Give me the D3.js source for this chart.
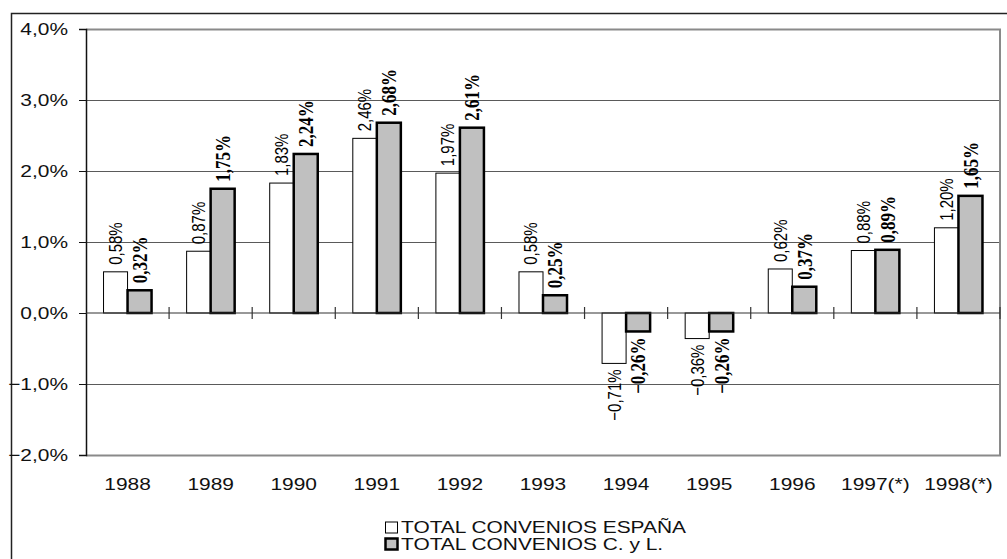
<!DOCTYPE html>
<html>
<head>
<meta charset="utf-8">
<script src="https://cdn.jsdelivr.net/npm/d3@7"></script>
<style>
html,body{margin:0;padding:0;background:#fff;}
svg{display:block;}
</style>
</head>
<body>
<svg id="chart" width="1007" height="559"></svg>
<script>
const categories = ["1988","1989","1990","1991","1992","1993","1994","1995","1996","1997(*)","1998(*)"];
const seriesNames = ["TOTAL CONVENIOS ESPAÑA","TOTAL CONVENIOS C. y L."];
const espana = [0.58,0.87,1.83,2.46,1.97,0.58,-0.71,-0.36,0.62,0.88,1.20];
const cyl = [0.32,1.75,2.24,2.68,2.61,0.25,-0.26,-0.26,0.37,0.89,1.65];
const yTicks = [-2,-1,0,1,2,3,4];

(function(){
const SX = 1.23; // horizontal text stretch seen in the reference
const svg = d3.select("#chart");
const pLeft = 86, pRight = 1000, pTop = 29, pBottom = 455;

// outer frame
svg.append("path").attr("d", `M11.5,570 L11.5,13.5 L1015,13.5`)
  .attr("fill","none").attr("stroke","#222").attr("stroke-width",1.5);

const x = d3.scaleBand().domain(categories).range([pLeft, pRight]).paddingInner(0).paddingOuter(0);
const xs = d3.scaleBand().domain([0,1]).range([0, x.bandwidth()]).paddingInner(0).paddingOuter(0.73);
const y = d3.scaleLinear().domain([-2,4]).range([pBottom, pTop]);

const fmt = v => d3.format(".2f")(v).replace(".", ",") + "%";
const fmtAxis = v => d3.format(".1f")(v).replace(".", ",") + "%";

// gridlines
svg.append("g").selectAll("line").data(yTicks.filter(t => t !== 0 && t !== 4 && t !== -2))
  .join("line")
  .attr("x1", pLeft).attr("x2", pRight)
  .attr("y1", d => Math.round(y(d)) + 0.5).attr("y2", d => Math.round(y(d)) + 0.5)
  .attr("stroke", "#5a5a5a").attr("stroke-width", 1);

// plot border (top/right/bottom) gray
svg.append("path")
  .attr("d", `M${pLeft},${Math.round(y(4))+0.5} L${pRight},${Math.round(y(4))+0.5} L${pRight},${Math.round(y(-2))+0.5} L${pLeft},${Math.round(y(-2))+0.5}`)
  .attr("fill","none").attr("stroke","#8a8a8a").attr("stroke-width",2);

// y axis
const yAxis = d3.axisLeft(y).tickValues(yTicks).tickSize(7).tickFormat("");
const gy = svg.append("g").attr("transform", `translate(${pLeft},0)`).call(yAxis);
gy.select(".domain").attr("stroke","#111").attr("stroke-width",1.5);
gy.selectAll(".tick line").attr("stroke","#111");
svg.append("g").selectAll("text").data(yTicks).join("text")
  .attr("transform", d => `translate(68,${y(d)}) scale(${SX},1)`)
  .attr("text-anchor","end").attr("dy","0.36em")
  .attr("font-family","Arial, 'Liberation Sans', sans-serif").attr("font-size",17)
  .attr("fill","#111").text(d => fmtAxis(d));

// bars
const g = svg.append("g");
categories.forEach((c, i) => {
  const vals = [espana[i], cyl[i]];
  vals.forEach((v, s) => {
    const bx = x(c) + xs(s);
    const y0 = y(Math.max(0, v)), y1 = y(Math.min(0, v));
    g.append("rect")
      .attr("x", bx).attr("y", y0).attr("width", xs.bandwidth()).attr("height", y1 - y0)
      .attr("fill", s === 0 ? "#ffffff" : "#c0c0c0")
      .attr("stroke", "#000").attr("stroke-width", s === 0 ? 1 : 2.5);
  });
});

// x axis at zero
const xAxisLine = svg.append("g");
xAxisLine.append("line").attr("x1", pLeft).attr("x2", pRight)
  .attr("y1", y(0)).attr("y2", y(0)).attr("stroke", "#333").attr("stroke-width", 1.2);
xAxisLine.selectAll("line.tk").data(categories.slice(1).concat(["__end"])).join("line")
  .attr("class","tk")
  .attr("x1", d => d === "__end" ? pRight : x(d)).attr("x2", d => d === "__end" ? pRight : x(d))
  .attr("y1", y(0) - 6).attr("y2", y(0) + 6).attr("stroke","#333").attr("stroke-width",1.2);

// category labels
svg.append("g").selectAll("text").data(categories).join("text")
  .attr("transform", d => `translate(${x(d) + x.bandwidth()/2},490) scale(${SX},1)`)
  .attr("text-anchor","middle")
  .attr("font-family","Arial, 'Liberation Sans', sans-serif").attr("font-size",17)
  .attr("fill","#111").text(d => d);

// data labels
categories.forEach((c, i) => {
  const vals = [espana[i], cyl[i]];
  vals.forEach((v, s) => {
    const cx = x(c) + xs(s) + xs.bandwidth()/2;
    const pos = v >= 0;
    const yy = pos ? y(v) - 7 : y(v) + 6;
    svg.append("text")
      .attr("transform", `translate(${cx},${yy}) scale(${SX},1) rotate(-90)`)
      .attr("text-anchor", pos ? "start" : "end")
      .attr("dy", "0.35em")
      .attr("font-family", s === 0 ? "Arial, 'Liberation Sans', sans-serif" : "'Times New Roman', 'Liberation Serif', serif")
      .attr("font-weight", s === 0 ? "normal" : "bold")
      .attr("font-size", s === 0 ? 15 : 17)
      .attr("fill","#000")
      .text(fmt(v));
  });
});

// legend
const lg = svg.append("g");
seriesNames.forEach((n, s) => {
  const ly = s === 0 ? 522 : 538.5;
  lg.append("rect").attr("x", 385.5).attr("y", ly).attr("width", 12).attr("height", 11)
    .attr("fill", s === 0 ? "#fff" : "#c0c0c0").attr("stroke","#000").attr("stroke-width", s === 0 ? 1 : 2.5);
  lg.append("text")
    .attr("transform", `translate(401,${s === 0 ? 533 : 550}) scale(${SX},1)`)
    .attr("font-family","Arial, 'Liberation Sans', sans-serif").attr("font-size",17)
    .attr("fill","#111").text(n);
});
})();
</script>
</body>
</html>
